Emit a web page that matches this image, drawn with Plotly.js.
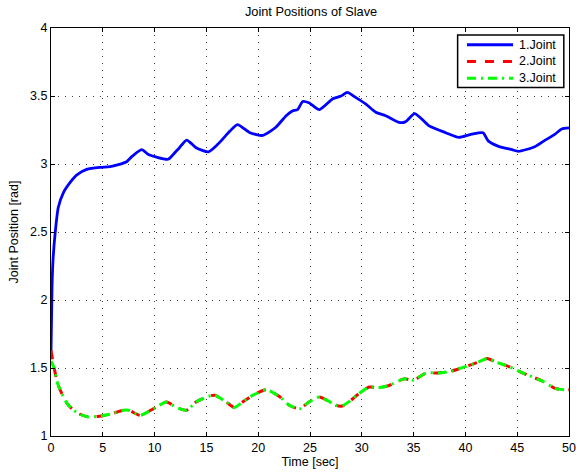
<!DOCTYPE html>
<html>
<head>
<meta charset="utf-8">
<script src="https://cdn.plot.ly/plotly-3.0.1.min.js"></script>
<style>html,body{margin:0;padding:0;background:#fff;}#chart{width:576px;height:473px;}</style>
</head>
<body>
<div id="chart"></div>
<script>
// Joint 1 (blue)
const t1 = [0, 0.1, 0.2, 0.4, 0.7, 1.2, 1.85, 2.5, 3.45, 4.7, 5.7, 6.5, 7.3, 7.8, 8.75, 9.4, 10.2, 11.3, 11.8, 12.4, 13.1, 14.0, 15.2, 16.1, 17.25, 18.0, 19.2, 20.45, 21.7, 22.7, 23.3, 23.8, 24.3, 24.9, 25.9, 27.2, 28.0, 28.6, 29.4, 30.4, 31.35, 32.3, 33.6, 34.2, 35.1, 35.8, 36.5, 38.1, 39.35, 40.6, 41.7, 42.2, 43.2, 44.5, 45.1, 46.7, 47.6, 48.65, 49.3, 50];
const joint1 = [1.62, 2.1, 2.3, 2.49, 2.68, 2.79, 2.865, 2.92, 2.96, 2.975, 2.98, 2.995, 3.017, 3.054, 3.105, 3.07, 3.05, 3.035, 3.07, 3.12, 3.176, 3.12, 3.09, 3.145, 3.24, 3.29, 3.23, 3.21, 3.27, 3.355, 3.39, 3.4, 3.46, 3.45, 3.40, 3.48, 3.5, 3.527, 3.49, 3.44, 3.38, 3.355, 3.306, 3.31, 3.37, 3.33, 3.28, 3.23, 3.196, 3.22, 3.23, 3.17, 3.13, 3.105, 3.093, 3.127, 3.17, 3.22, 3.257, 3.265];
// Joints 2 and 3 (red / green)
const t23 = [0, 0.25, 0.64, 1.06, 1.54, 2.17, 2.8, 3.6, 4.65, 5.7, 6.98, 7.5, 8.6, 9.87, 11.15, 12.1, 13.1, 14.0, 15.0, 15.8, 16.9, 17.7, 18.5, 19.5, 20.8, 22.05, 23.0, 24.0, 24.9, 25.9, 26.7, 27.5, 28.1, 28.9, 29.7, 30.7, 31.6, 32.6, 34.07, 35.0, 36.2, 37.4, 38.7, 40.0, 41.3, 42.1, 42.9, 44.2, 45.8, 47.4, 48.65, 49.6, 50];
const joint2 = [1.63, 1.52, 1.385, 1.31, 1.24, 1.19, 1.16, 1.14, 1.145, 1.16, 1.19, 1.19, 1.152, 1.2, 1.25, 1.21, 1.19, 1.25, 1.287, 1.3, 1.25, 1.21, 1.25, 1.30, 1.34, 1.29, 1.226, 1.2, 1.25, 1.287, 1.26, 1.226, 1.22, 1.26, 1.31, 1.36, 1.355, 1.37, 1.42, 1.41, 1.463, 1.463, 1.478, 1.51, 1.545, 1.57, 1.545, 1.51, 1.455, 1.405, 1.35, 1.34, 1.34];
const joint3 = [1.55, 1.51, 1.385, 1.31, 1.24, 1.19, 1.16, 1.14, 1.145, 1.16, 1.19, 1.19, 1.152, 1.2, 1.25, 1.21, 1.19, 1.25, 1.287, 1.3, 1.25, 1.21, 1.25, 1.30, 1.34, 1.29, 1.226, 1.2, 1.25, 1.287, 1.26, 1.226, 1.22, 1.26, 1.31, 1.36, 1.355, 1.37, 1.42, 1.41, 1.463, 1.463, 1.478, 1.51, 1.545, 1.57, 1.545, 1.51, 1.455, 1.405, 1.35, 1.34, 1.34];
const names = ["1.Joint", "2.Joint", "3.Joint"];
const colors = ["rgb(0,0,255)", "rgb(255,0,0)", "rgb(0,255,0)"];
const dashes = ["solid", "9px,9px", "9px,5px,2px,5px"];
const xTicks = [0, 5, 10, 15, 20, 25, 30, 35, 40, 45, 50];
const yTicks = [1, 1.5, 2, 2.5, 3, 3.5, 4];

const font = "Liberation Sans, Arial, Helvetica, sans-serif";
const traces = [
  {x: t1, y: joint1, name: names[0], mode: "lines", line: {color: colors[0], width: 2.8, dash: dashes[0], shape: "spline", smoothing: 0.6}},
  {x: t23, y: joint2, name: names[1], mode: "lines", line: {color: colors[1], width: 3, dash: dashes[1], shape: "spline", smoothing: 0.6}},
  {x: t23, y: joint3, name: names[2], mode: "lines", line: {color: colors[2], width: 3, dash: dashes[2], shape: "spline", smoothing: 0.6}}
];
const axisCommon = {
  showline: true, linecolor: "#000", linewidth: 1, mirror: "ticks",
  ticks: "inside", ticklen: 4, tickcolor: "#000",
  showgrid: true, gridcolor: "rgba(0,0,0,0.75)", griddash: "1px,6px", gridwidth: 1,
  zeroline: false, tickfont: {family: font, size: 12.5, color: "#000"},
  ticklabeloverflow: "allow"
};

// Legend drawn in the MATLAB style (box, long line samples, tight rows)
const lgX0 = 0.785, lgX1 = 0.99, lgY0 = 0.854, lgY1 = 0.983;
const rowY = [0.959, 0.918, 0.877];
const shapes = [{type: "rect", xref: "paper", yref: "paper", x0: lgX0, x1: lgX1, y0: lgY0, y1: lgY1,
  line: {color: "#000", width: 1.5}, fillcolor: "#fff", layer: "above"}];
const annotations = [];
names.forEach((n, i) => {
  shapes.push({type: "line", xref: "paper", yref: "paper", x0: 0.803, x1: 0.892, y0: rowY[i], y1: rowY[i],
    line: {color: colors[i], width: 3, dash: dashes[i]}, layer: "above"});
  annotations.push({xref: "paper", yref: "paper", x: 0.9, y: rowY[i], xanchor: "left", yanchor: "middle",
    text: n, showarrow: false, font: {family: font, size: 12.5, color: "#000"}});
});

const layout = {
  width: 576, height: 473,
  margin: {l: 51, r: 7, t: 28, b: 37},
  paper_bgcolor: "#fff", plot_bgcolor: "#fff",
  font: {family: font, color: "#000"},
  title: {text: "Joint Positions of Slave", font: {family: font, size: 12.8, color: "#000"}, x: 0.54, xanchor: "center", y: 0.975, yanchor: "middle"},
  xaxis: Object.assign({}, axisCommon, {range: [0, 50], tickvals: xTicks, ticktext: xTicks.map(String),
    title: {text: "Time [sec]", font: {family: font, size: 12.5}, standoff: 2}}),
  yaxis: Object.assign({}, axisCommon, {range: [1, 4], tickvals: yTicks, ticktext: yTicks.map(String),
    title: {text: "Joint Position [rad]", font: {family: font, size: 12.5}, standoff: 8}}),
  shapes: shapes,
  annotations: annotations,
  showlegend: false
};
Plotly.newPlot("chart", traces, layout, {staticPlot: true, displayModeBar: false});
</script>
</body>
</html>
